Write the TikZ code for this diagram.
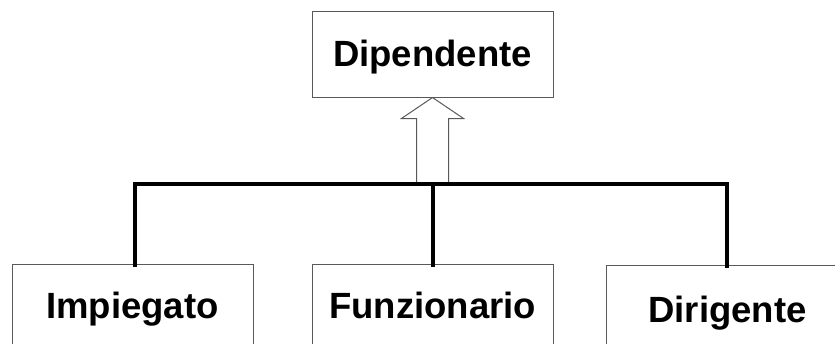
\documentclass[tikz,border=0pt]{standalone}
\usepackage{fontspec}
\setmainfont{Liberation Sans}
\begin{document}
\begin{tikzpicture}[x=1pt,y=-1pt,
  entity/.style={draw=black!65, line width=1pt, fill=white, rectangle, inner sep=0pt,
    text height=25.8pt, text depth=0pt, font=\fontsize{36.5}{40}\selectfont\bfseries},
  isa/.style={draw=black!65, line width=1pt, fill=white, line join=miter},
  link/.style={draw=black, line width=4pt}]
\useasboundingbox (0,0) rectangle (835,343);
\clip (0,0) rectangle (835,343);
\fill[white] (0,0) rectangle (835,343);
\node[entity, minimum width=241pt, minimum height=86pt] (dip) at (432.5,54) {Dipendente};
\node[entity, minimum width=241pt, minimum height=84pt] (imp) at (132.5,306) {Impiegato};
\node[entity, minimum width=241pt, minimum height=84pt] (fun) at (432.5,306) {Funzionario};
\node[entity, minimum width=243pt, minimum height=90pt] (dir) at (727.5,310) {Dirigente};
\coordinate (barL) at (135,184);
\coordinate (barM) at (433,184);
\coordinate (barR) at (727,184);
\draw[isa] (dip.south) -- ++(-31,21) -- ++(15,0) -- ++(0,66) -- ++(32,0) -- ++(0,-66) -- ++(15,0) -- cycle;
\draw[link, line cap=butt] ([xshift=-2pt]barL) -- ([xshift=2pt]barR);
\draw[link] (barL) -- ([yshift=-3pt]barL |- imp.north);
\draw[link] (barM) -- ([yshift=-3pt]barM |- fun.north);
\draw[link] (barR) -- ([yshift=-3pt]barR |- dir.north);
\end{tikzpicture}
\end{document}
